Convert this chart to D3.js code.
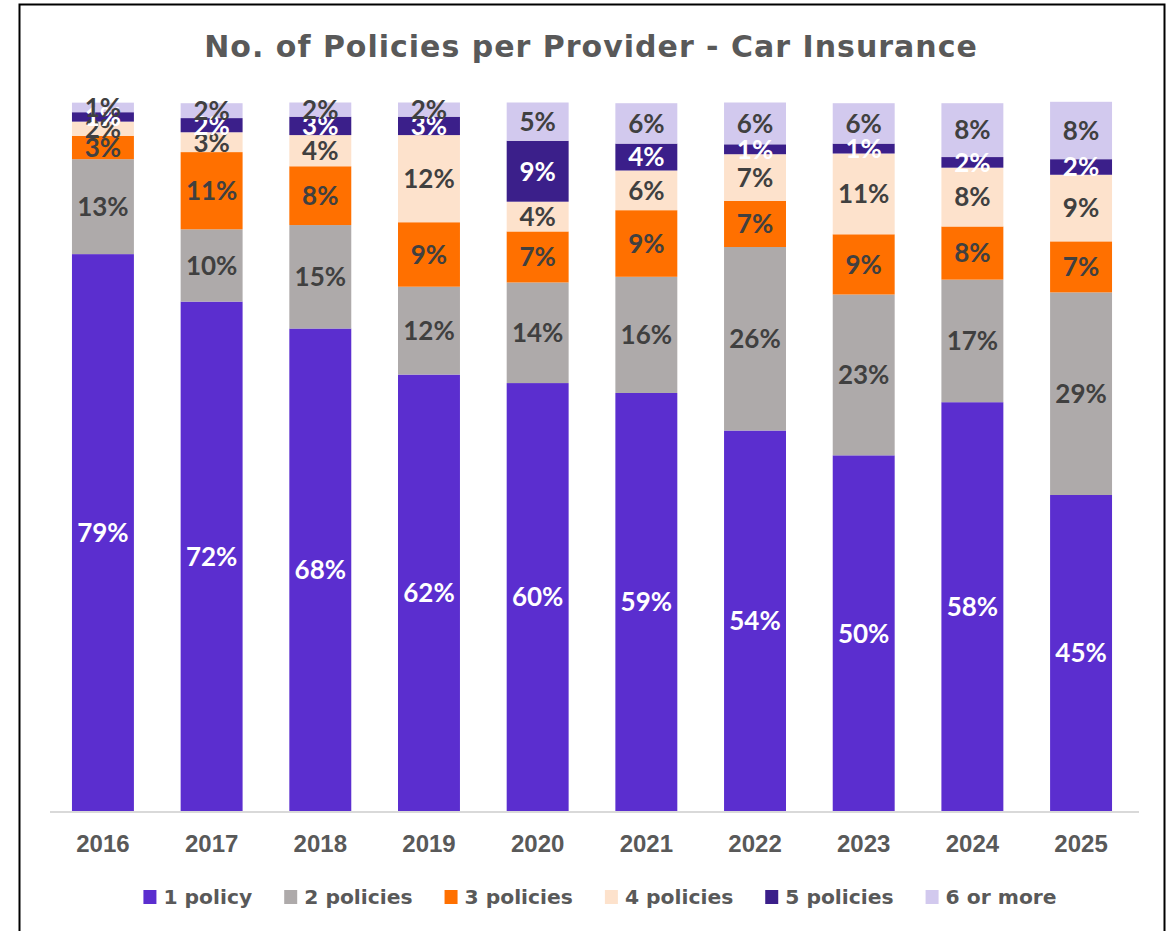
<!DOCTYPE html>
<html lang="en">
<head>
	<meta charset="utf-8">
	<title>No. of Policies per Provider - Car Insurance</title>
	<script src="https://d3js.org/d3.v7.min.js"></script>
	<style>
		body {
			margin: 0;
			background: #ffffff;
			font-family: "Lato", "DejaVu Sans", sans-serif;
		}
		.title {
			font-family: "DejaVu Sans", sans-serif;
			font-size: 30px;
			font-weight: 700;
			letter-spacing: 1px;
			fill: #595959;
		}
		.tick-label {
			font-size: 24px;
			font-weight: 700;
			fill: #595959;
		}
		.seg-label {
			font-size: 26px;
			font-weight: 700;
		}
		.legend-label {
			font-family: "DejaVu Sans", sans-serif;
			font-size: 20.3px;
			font-weight: 700;
			fill: #595959;
		}
	</style>
</head>
<body>
	<script>
	// years on the x axis
	var years = ["2016", "2017", "2018", "2019", "2020", "2021", "2022", "2023", "2024", "2025"];

	// series names, bottom to top
	var seriesNames = ["1 policy", "2 policies", "3 policies", "4 policies", "5 policies", "6 or more"];

	// share of providers (%) per series, one value per year
	var onePolicy    = [78.6, 71.9, 68.1, 61.6, 60.4, 59.0, 53.7, 50.2, 57.7, 44.6];
	var twoPolicies  = [13.4, 10.2, 14.6, 12.4, 14.2, 16.4, 25.9, 22.7, 17.3, 28.6];
	var threePolicies = [3.3, 10.9, 8.3, 9.1, 7.2, 9.4, 6.5, 8.5, 7.5, 7.2];
	var fourPolicies = [2.0, 2.8, 4.4, 12.3, 4.2, 5.6, 6.6, 11.4, 8.3, 9.4];
	var fivePolicies = [1.33, 2.0, 2.6, 2.6, 8.6, 3.8, 1.4, 1.4, 1.5, 2.2];
	var sixOrMore    = [1.35, 2.1, 2.0, 2.0, 5.4, 5.7, 5.9, 5.7, 7.6, 8.1];

	var colors = ["#5B2ECF", "#AEAAAA", "#FF7000", "#FDE2CC", "#3B1F8A", "#D2C9EE"];
	var labelColors = ["#ffffff", "#404040", "#404040", "#404040", "#ffffff", "#404040"];

	var width = 1173;
	var height = 931;

	var svg = d3.select("body")
		.append("svg")
		.attr("width", width)
		.attr("height", height);

	// outer frame
	svg.append("rect")
		.attr("x", 19.5)
		.attr("y", 4.5)
		.attr("width", 1145)
		.attr("height", 940)
		.attr("fill", "none")
		.attr("stroke", "#000")
		.attr("stroke-width", 2);

	svg.append("text")
		.attr("class", "title")
		.attr("x", 591)
		.attr("y", 57)
		.attr("text-anchor", "middle")
		.text("No. of Policies per Provider - Car Insurance");

	// build rows for the stack
	var allSeries = [onePolicy, twoPolicies, threePolicies, fourPolicies, fivePolicies, sixOrMore];
	var rows = years.map(function(y, i) {
		var r = { year: y };
		seriesNames.forEach(function(s, j) { r[s] = allSeries[j][i]; });
		return r;
	});

	var stacked = d3.stack().keys(seriesNames)(rows);

	var x = d3.scaleBand()
		.domain(years)
		.range([48.6, 1135.4])
		.paddingInner(0.43)
		.paddingOuter(0.215);

	var y = d3.scaleLinear()
		.domain([0, 100])
		.range([811, 102.5]);

	var layers = svg.append("g")
		.selectAll("g")
		.data(stacked)
		.enter()
		.append("g")
		.attr("fill", function(d, i) { return colors[i]; });

	layers.selectAll("rect")
		.data(function(d) { return d; })
		.enter()
		.append("rect")
		.attr("x", function(d) { return x(d.data.year); })
		.attr("y", function(d) { return y(d[1]); })
		.attr("width", x.bandwidth())
		.attr("height", function(d) { return y(d[0]) - y(d[1]); });

	// baseline
	svg.append("line")
		.attr("x1", 50)
		.attr("x2", 1139)
		.attr("y1", 812)
		.attr("y2", 812)
		.attr("stroke", "#D9D9D9")
		.attr("stroke-width", 2);

	// data labels
	var labels = svg.append("g");
	stacked.forEach(function(layer, i) {
		labels.selectAll(".l" + i)
			.data(layer)
			.enter()
			.append("text")
			.attr("class", "seg-label l" + i)
			.attr("x", function(d) { return x(d.data.year) + x.bandwidth() / 2; })
			.attr("y", function(d) { return (y(d[0]) + y(d[1])) / 2; })
			.attr("dy", "0.36em")
			.attr("text-anchor", "middle")
			.attr("fill", labelColors[i])
			.text(function(d) { return Math.round(d[1] - d[0]) + "%"; });
	});

	// x axis labels
	var xAxis = d3.axisBottom(x).tickSize(0).tickPadding(0);
	var axisG = svg.append("g")
		.attr("transform", "translate(0,835)")
		.call(xAxis);
	axisG.select(".domain").remove();
	axisG.selectAll("text")
		.attr("class", "tick-label")
		.attr("fill", null)
		.attr("font-size", null)
		.attr("font-family", null)
		.attr("dy", "0.71em");

	// legend
	var legend = svg.append("g");
	var items = legend.selectAll("g")
		.data(seriesNames)
		.enter()
		.append("g");
	items.append("rect")
		.attr("width", 13)
		.attr("height", 14)
		.attr("y", -14)
		.attr("fill", function(d, i) { return colors[i]; });
	items.append("text")
		.attr("class", "legend-label")
		.attr("x", 20)
		.attr("y", 0)
		.text(function(d) { return d; });

	var offsets = [];
	var total = 0;
	items.each(function(d, i) {
		var w = 20 + this.querySelector("text").getComputedTextLength();
		offsets.push(total);
		total += w + (i < seriesNames.length - 1 ? 32 : 0);
	});
	var startX = 600 - total / 2;
	items.attr("transform", function(d, i) { return "translate(" + (startX + offsets[i]) + ",904)"; });
	</script>
</body>
</html>
